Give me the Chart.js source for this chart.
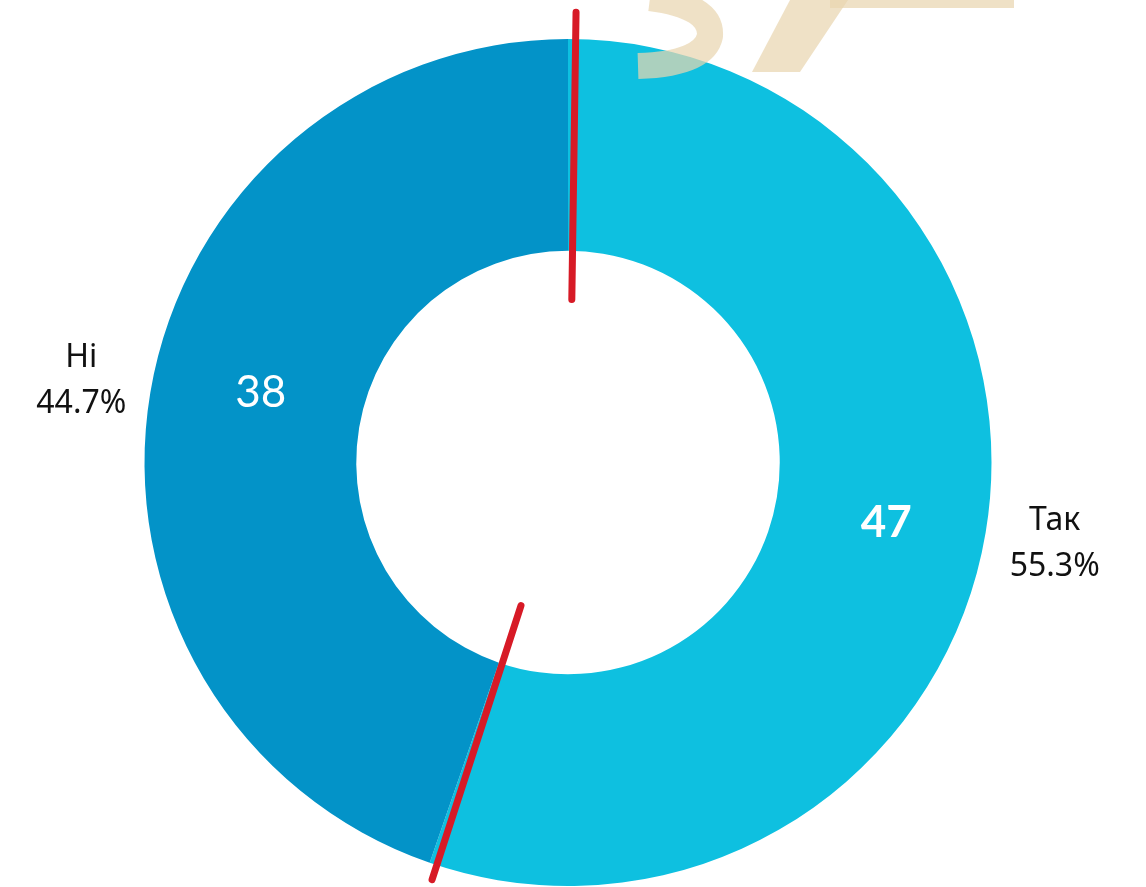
<!DOCTYPE html>
<html>
<head>
<meta charset="utf-8">
<script src="https://cdn.jsdelivr.net/npm/chart.js@4/dist/chart.umd.min.js"></script>
<style>
html,body{margin:0;padding:0;background:#fff;}
#wrap{width:1146px;height:887px;position:relative;}
</style>
</head>
<body>
<div id="wrap"><canvas id="c" width="1146" height="887"></canvas></div>
<script>
const categories = ['Так', 'Ні'];
const values = [47, 38];
const sliceColors = ['#0ec0e0', '#0393c8'];

const total = values.reduce((a, b) => a + b, 0);
const percentLabels = values.map(v => (v / total * 100).toFixed(1) + '%');

const watermarkPlugin = {
  id: 'watermark',
  afterDatasetsDraw(chart) {
    const ctx = chart.ctx;
    ctx.save();
    ctx.fillStyle = 'rgba(233,214,176,0.72)';
    ctx.strokeStyle = 'rgba(233,214,176,0.72)';
    // S fragment
    ctx.lineWidth = 26;
    ctx.lineCap = 'butt';
    ctx.lineJoin = 'round';
    ctx.beginPath();
    ctx.moveTo(650, -2);
    ctx.quadraticCurveTo(712, 6, 710, 36);
    ctx.quadraticCurveTo(704, 64, 638, 66);
    ctx.stroke();
    // slash
    ctx.beginPath();
    ctx.moveTo(790, 0);
    ctx.lineTo(848, 0);
    ctx.lineTo(800, 72);
    ctx.lineTo(752, 72);
    ctx.closePath();
    ctx.fill();
    // top bar
    ctx.fillRect(830, 0, 184, 8);
    ctx.restore();
  }
};

const labelPlugin = {
  id: 'sliceLabels',
  afterDatasetsDraw(chart, args, opts) {
    const ctx = chart.ctx;
    const meta = chart.getDatasetMeta(0);
    ctx.save();
    meta.data.forEach((arc, i) => {
      const p = arc.getProps(['x', 'y', 'startAngle', 'endAngle', 'innerRadius', 'outerRadius'], true);
      const mid = (p.startAngle + p.endAngle) / 2;
      const rIn = (p.innerRadius + p.outerRadius) / 2;
      const off = opts.valueOffsets[i] || [0, 0];
      const vx = p.x + Math.cos(mid) * rIn + off[0];
      const vy = p.y + Math.sin(mid) * rIn + off[1];
      ctx.fillStyle = '#ffffff';
      ctx.font = (i === 0 ? 'bold ' : '') + '44px Lato, "Open Sans", sans-serif';
      ctx.textAlign = 'center';
      ctx.textBaseline = 'middle';
      ctx.fillText(String(values[i]), vx, vy);

      const rOut = p.outerRadius + 70;
      const ox = p.x + Math.cos(mid) * rOut;
      const oy = p.y + Math.sin(mid) * rOut;
      ctx.fillStyle = '#111111';
      ctx.font = '32px "Noto Sans", sans-serif';
      ctx.fillText(categories[i], ox, oy - 23);
      ctx.fillText(percentLabels[i], ox, oy + 23);
    });
    ctx.restore();
  }
};

const markPlugin = {
  id: 'redMarks',
  afterDraw(chart) {
    const meta = chart.getDatasetMeta(0);
    const a = meta.data[0];
    if (!a) return;
    const p = a.getProps(['x', 'y', 'outerRadius'], true);
    const R = p.outerRadius;
    const ctx = chart.ctx;
    ctx.save();
    ctx.strokeStyle = '#d71a26';
    ctx.lineWidth = 7;
    ctx.lineCap = 'round';
    const seg = (x1, y1, x2, y2) => {
      ctx.beginPath();
      ctx.moveTo(p.x + x1 * R, p.y + y1 * R);
      ctx.lineTo(p.x + x2 * R, p.y + y2 * R);
      ctx.stroke();
    };
    seg(0.019, -1.063, 0.009, -0.385);
    seg(-0.111, 0.338, -0.321, 0.985);
    ctx.restore();
  }
};

new Chart(document.getElementById('c'), {
  type: 'doughnut',
  data: {
    labels: categories,
    datasets: [{
      data: values,
      backgroundColor: sliceColors,
      borderWidth: 0
    }]
  },
  options: {
    responsive: false,
    animation: false,
    cutout: '50%',
    layout: { padding: { top: 39, bottom: 1, left: 0, right: 10 } },
    plugins: {
      legend: { display: false },
      tooltip: { enabled: false },
      sliceLabels: { valueOffsets: [[5, 8], [6, -17]] }
    }
  },
  plugins: [watermarkPlugin, labelPlugin, markPlugin]
});
</script>
</body>
</html>
